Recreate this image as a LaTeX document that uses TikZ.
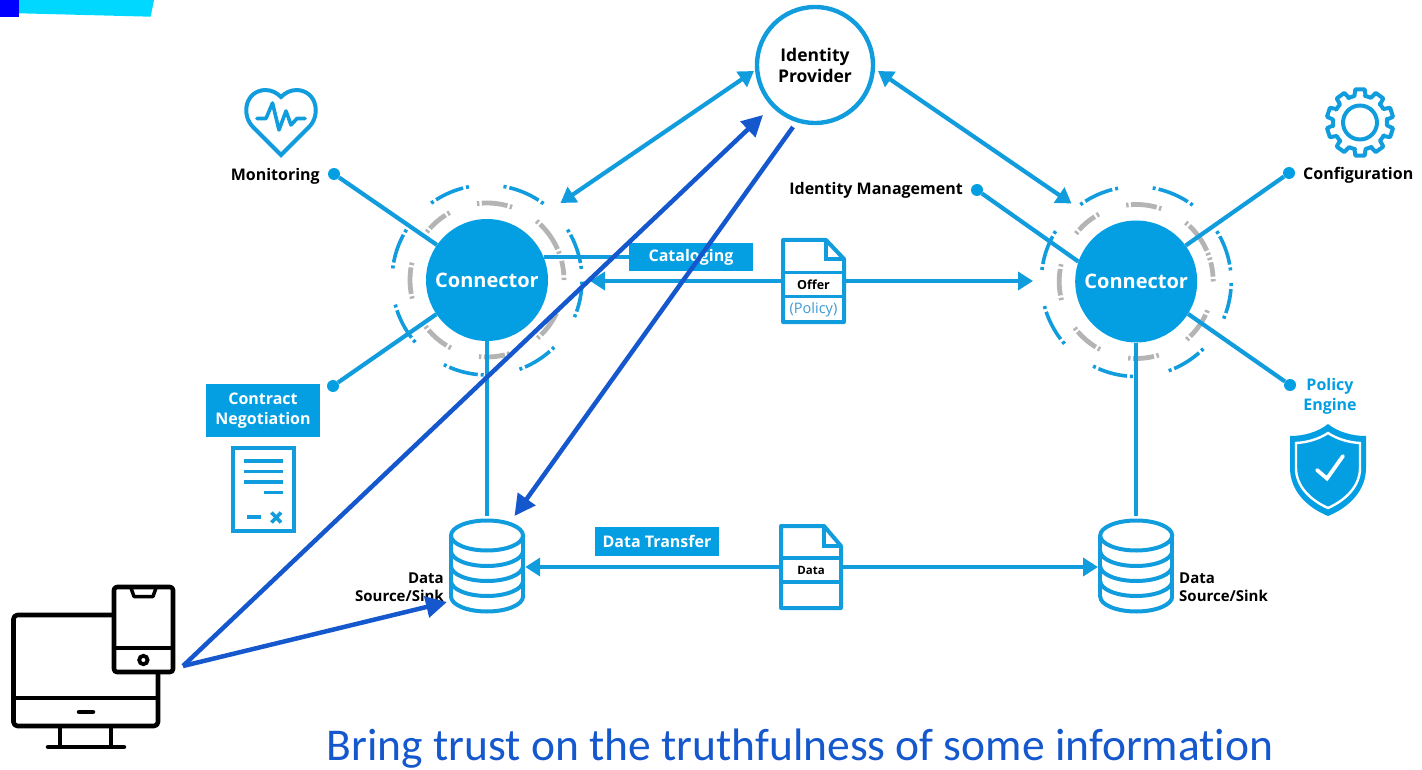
\documentclass[tikz,border=0pt]{standalone}
\usepackage{fontspec}
\setmainfont{Open Sans}
\newfontfamily\titlefont[Ligatures=NoCommon]{Carlito}
\usetikzlibrary{arrows.meta,calc}
\definecolor{cblue}{HTML}{049FE3}
\definecolor{lnblue}{HTML}{119CDD}
\definecolor{dkblue}{HTML}{1558CE}
\definecolor{ringgray}{HTML}{B4B4B4}
\definecolor{polblue}{HTML}{3D9AD6}
\tikzset{
  lnk/.style={draw=lnblue,line width=4.2pt},
  biarrow/.style={lnk,{Triangle[length=15pt,width=18pt]}-{Triangle[length=15pt,width=18pt]}},
  onearrow/.style={lnk,-{Triangle[length=15pt,width=18pt]}},
  dkarrow/.style={draw=dkblue,line width=4.5pt,-{Triangle[length=21pt,width=21pt]}},
  hub/.style={circle,fill=cblue,minimum size=122pt,inner sep=0pt,text=white,font=\bfseries\fontsize{20}{24}\selectfont},
  dotnode/.style={circle,fill=cblue,minimum size=12pt,inner sep=0pt},
  bluebox/.style={fill=cblue,text=white,inner sep=0pt,align=center,font=\bfseries\fontsize{16}{20}\selectfont},
  lab/.style={inner sep=0pt,align=center,text=black,font=\bfseries\fontsize{16}{19.5}\selectfont},
  dslab/.style={inner sep=0pt,text=black,font=\bfseries\fontsize{15}{18}\selectfont},
  holder/.style={inner sep=0pt,minimum width=#1},
  icon/.style={draw=lnblue,line width=4pt,line join=miter},
  ringb/.style={draw=lnblue,line width=3.6pt},
  ringg/.style={draw=ringgray,line width=4.8pt},
  blackicon/.style={draw=black,line width=4.6pt,line join=round}
}
% one dash-dotted arc
\newcommand\ringseg[5]{% style, centre, radius, from, to
  \pgfmathsetmacro\aA{-(#4)}\pgfmathsetmacro\aB{-(#4+1.8)}
  \pgfmathsetmacro\aC{-(#4+3.6)}\pgfmathsetmacro\aD{-(#5-3.6)}
  \pgfmathsetmacro\aE{-(#5-1.8)}\pgfmathsetmacro\aF{-(#5)}
  \begin{scope}[shift={(#2)}]
  \draw[#1] (\aA:#3) arc (\aA:\aB:#3);
  \draw[#1] (\aC:#3) arc (\aC:\aD:#3);
  \draw[#1] (\aE:#3) arc (\aE:\aF:#3);
  \end{scope}}
\newcommand\rings[1]{%
  \foreach \p/\q in {101/126,53.5/80,6.7/32,-23/-1,-70/-45,-117/-92,-165/-139,148/173}
    {\ringseg{ringb}{#1}{95}{\p}{\q}}
  \foreach \p/\q in {71/97.5,20/50,0/18,-49/-22,-96/-73,-143/-118,167/194,119/141.5}
    {\ringseg{ringg}{#1}{77}{\p}{\q}}}
% database icon: x centre, y centre
\newcommand\dbicon[2]{%
  \begin{scope}[shift={(#1,#2)}]
  \draw[icon] (-36,-31) arc (180:0:36 and 15) arc (0:-180:36 and 15) -- cycle;
  \draw[icon] (-36,-31) -- (-36,30) (36,-31) -- (36,30);
  \foreach \yy in {-15.5,-0.5,14.5,30}
    \draw[icon] (-36,\yy) arc (180:0:36 and 15);
  \end{scope}}
\begin{document}
\begin{tikzpicture}[x=1pt,y=-1pt]
\useasboundingbox (0,0) rectangle (1422,770);
% corner banner
\fill[fill={rgb,255:red,0;green,216;blue,255}] (0,0) -- (154,0) -- (150.7,16.7) -- (19,13.3) -- (0,13.3) -- cycle;
\fill[fill={rgb,255:red,0;green,0;blue,255}] (0,0) rectangle (19,16.7);
% rings
\rings{487,280}
\rings{1136.2,281.5}
% hubs
\node[hub] (conL) at (487,280) {\raisebox{-1.5pt}{Connector}};
\node[hub] (conR) at (1136.2,281.5) {Connector};
\node[circle,draw=lnblue,line width=4.4pt,fill=white,minimum size=116pt,inner sep=0pt,align=center,
  font=\bfseries\fontsize{17.5}{21}\selectfont] (idp) at (815,65) {Identity\\Provider};
% dots
\node[dotnode] (monDot) at (334,174) {};
\node[dotnode] (conDot) at (333,386) {};
\node[dotnode] (idmDot) at (977,190) {};
\node[dotnode] (cfgDot) at (1289,173) {};
\node[dotnode] (polDot) at (1290,385) {};
% labels
\node[lab,anchor=east] (monLab) at (320,176.5) {Monitoring};
\node[lab,anchor=east] (idmLab) at (963,190.5) {Identity Management};
\node[lab,anchor=west] (cfgLab) at (1303,175.5) {Configuration};
\node[lab,text=cblue] (polLab) at (1330,396.5) {Policy\\Engine};
\node[bluebox,minimum width=114pt,minimum height=53pt] (ctrBox) at (263,410.5) {Contract\\Negotiation};
\node[bluebox,minimum width=124pt,minimum height=28.5pt] (catBox) at (691,257) {Cataloging};
\node[bluebox,minimum width=124pt,minimum height=29pt] (dtBox) at (657,541.5) {Data Transfer};
\node[dslab,anchor=north east,align=right] (dsL) at (444,573) {Data\\Source/Sink};
\node[dslab,anchor=north west,align=left] (dsR) at (1179,573) {Data\\Source/Sink};
% holders for icons
\node[holder=76pt,minimum height=96pt] (dbL) at (487,567) {};
\node[holder=76pt,minimum height=96pt] (dbR) at (1136.2,567) {};
\dbicon{487}{566.5}
\dbicon{1136.2}{566.5}
\node[holder=65pt,minimum height=86pt] (offerDoc) at (813.5,281) {};
\node[holder=64pt,minimum height=86pt] (dataDoc) at (811,567) {};
% free ends
\coordinate (tipIdpL) at (560.5,203);
\coordinate (tipIdpR) at (1071.5,203.5);
\coordinate (tipIdpLo) at (754,71);
\coordinate (tipIdpRo) at (878,71);
\coordinate (tipOffL) at (590,281);
\coordinate (tipOffR) at (1033,281);
\coordinate (devOut) at (183,666);
\coordinate (tipDkA) at (763,115);
\coordinate (startDkC) at (793,127);
\coordinate (tipDkC) at (514.5,516);
\coordinate (tipDkB) at (447,602);
% connectors
\draw[lnk] (monDot) -- (conL.145);
\draw[lnk] (conDot) -- (conL.214);
\draw[lnk] (idmDot) -- (conR.161);
\draw[lnk] (cfgDot) -- (conR.36);
\draw[lnk] (polDot) -- (conR.-32);
\draw[lnk] (conL.22) -- (conL.22 -| catBox.west);
\draw[lnk] (conL.south) -- ($(dbL.north)+(0,-3)$);
\draw[lnk] (conR.south) -- ($(dbR.north)+(0,-3)$);
\draw[biarrow] (tipIdpLo) -- (tipIdpL);
\draw[biarrow] (tipIdpRo) -- (tipIdpR);
\draw[onearrow] (offerDoc.west) -- (tipOffL);
\draw[onearrow] (offerDoc.east) -- (tipOffR);
\draw[onearrow] (dataDoc.west) -- (dbL.east);
\draw[onearrow] (dataDoc.east) -- (dbR.west);
% offer document
\draw[icon,fill=white,line join=round] (783,240) -- (826,240) -- (844,259) -- (844,322) -- (783,322) -- cycle;
\draw[icon,line width=3.5pt] (826,240) -- (826,259) -- (844,259);
\draw[icon,line width=3.5pt] (783,272.5) -- (844,272.5) (783,296.5) -- (844,296.5);
\node[inner sep=0pt,font=\bfseries\fontsize{12.5}{15}\selectfont] (offerLab) at (813.5,285) {Offer};
\node[inner sep=0pt,text=polblue,font=\fontsize{14.5}{17}\selectfont] (policyLab) at (813.5,309.5) {(Policy)};
% data document
\draw[icon,fill=white,line join=round] (781,526) -- (824,526) -- (841,546) -- (841,608) -- (781,608) -- cycle;
\draw[icon,line width=3.5pt] (824,526) -- (824,546) -- (841,546);
\draw[icon,line width=3.5pt] (781,558) -- (841,558) (781,582) -- (841,582);
\node[inner sep=0pt,font=\bfseries\fontsize{11.5}{14}\selectfont] (dataLab) at (811,570) {Data};
% contract document
\draw[icon] (232.5,447.5) rectangle (294,531);
\draw[icon,line width=3.5pt] (243.5,461) -- (282.5,461) (243.5,471.5) -- (282.5,471.5) (243.5,482) -- (282.5,482)
  (264,492.5) -- (282.5,492.5) (247,517) -- (261,517);
\draw[icon,line width=3.6pt] (271.5,512.5) -- (281,522.5) (281,512.5) -- (271.5,522.5);
% heart
\draw[icon,line join=miter] (281,155) -- (253,127) .. controls (241,115) and (245,91) .. (265,90)
  .. controls (272,90) and (277,93) .. (281,97) .. controls (285,93) and (290,90) .. (297,90)
  .. controls (317,91) and (321,115) .. (309,127) -- cycle;
\draw[icon,line width=3.6pt,line cap=round,line join=round] (257,118.5) -- (266,118.5) -- (272.5,103) -- (279,130) -- (286,111) -- (291,125) -- (297,118.5) -- (305,118.5);
% gear
\begin{scope}[shift={(1360,122.5)}]
\draw[icon,line join=round] (-8:27)
  \foreach \i in {0,...,9} {
    arc[start angle=\i*36-8,end angle=\i*36+6,radius=27] -- (\i*36+10:33.5) -- (\i*36+26:33.5) -- (\i*36+30:27)
    arc[start angle=\i*36+30,end angle=\i*36+28,radius=27]
  } -- cycle;
\draw[icon] (0,0) circle[radius=17];
\end{scope}
% shield
\fill[cblue] (1328,424) .. controls (1338,432) and (1352,436) .. (1366,436) -- (1366,468)
  .. controls (1366,490) and (1350,507) .. (1328,516) .. controls (1306,507) and (1290,490) .. (1290,468)
  -- (1290,436) .. controls (1304,436) and (1318,432) .. (1328,424) -- cycle;
\draw[white,line width=2.4pt] (1328,433) .. controls (1337,439) and (1349,442.5) .. (1360,443) -- (1360,468)
  .. controls (1360,486) and (1346,500) .. (1328,508) .. controls (1310,500) and (1296,486) .. (1296,468)
  -- (1296,443) .. controls (1307,442.5) and (1319,439) .. (1328,433) -- cycle;
\draw[white,line width=3.8pt,line cap=round,line join=miter] (1317,470) -- (1327,478.5) -- (1343,456);
% devices
\draw[blackicon,rounded corners=4pt] (112,615) -- (13.5,615) -- (13.5,726) -- (158,726) -- (158,672);
\draw[blackicon] (13.5,698) -- (158,698);
\draw[black,line width=4.5pt,line cap=round] (79,712) -- (93,712);
\draw[blackicon] (60,726) -- (60,747) (111,726) -- (111,747);
\draw[black,line width=4.5pt,line cap=round] (48,747) -- (124,747);
\draw[blackicon,rounded corners=3pt] (114,587) rectangle (173,672);
\draw[blackicon] (114,648) -- (173,648);
\draw[blackicon,line width=3.5pt] (131,588) -- (134,596.5) -- (153,596.5) -- (156,588);
\draw[black,line width=3.8pt] (143.4,660) circle[radius=4.2];
% overlay arrows
\draw[dkarrow] (devOut) -- (tipDkA);
\draw[dkarrow] (devOut) -- (tipDkB);
\draw[dkarrow] (startDkC) -- (tipDkC);
% title
\node[inner sep=0pt,text=dkblue,font=\titlefont\fontsize{45.5}{50}\selectfont] (title) at (800,749) {Bring trust on the truthfulness of some information};
\end{tikzpicture}
\end{document}
